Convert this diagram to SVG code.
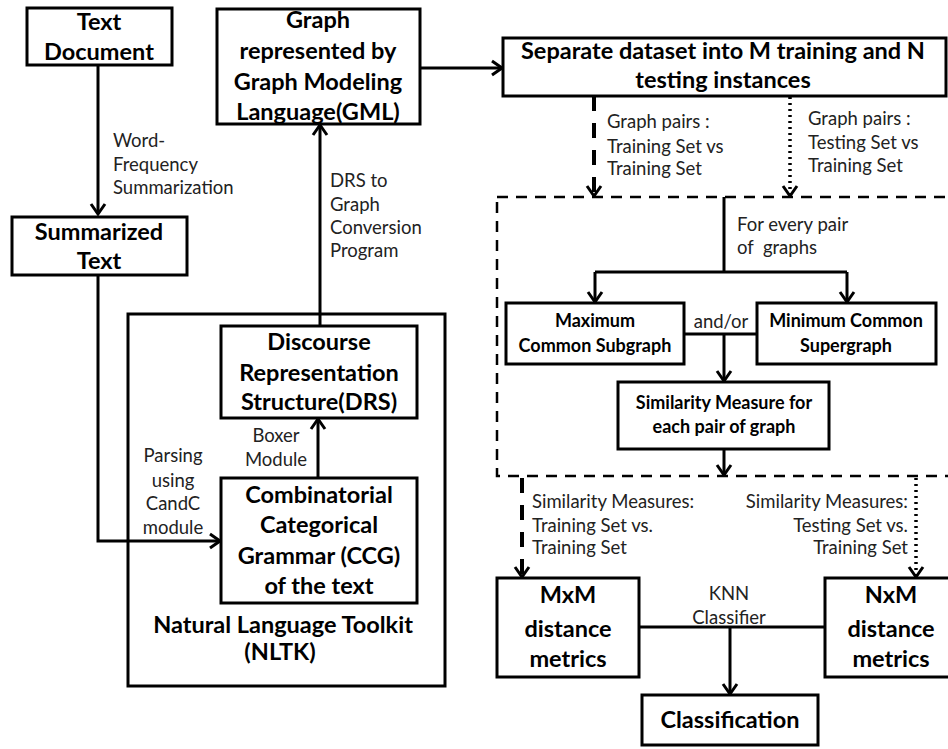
<svg xmlns="http://www.w3.org/2000/svg" width="948" height="749" viewBox="0 0 948 749">
<defs>
<style>
.box{fill:#fff;stroke:#000;stroke-width:3}
.ln{fill:none;stroke:#000;stroke-width:3}
.dash{fill:none;stroke:#000;stroke-width:4;stroke-dasharray:15 12}
.dot{fill:none;stroke:#000;stroke-width:3.5;stroke-dasharray:2 4}
.cont{fill:none;stroke:#000;stroke-width:2.5;stroke-dasharray:11 8}
.b{font-family:Lato,"Liberation Sans",sans-serif;font-weight:bold;font-size:23.5px;text-anchor:middle;fill:#000}
.bs{font-family:Lato,"Liberation Sans",sans-serif;font-weight:bold;font-size:18px;text-anchor:middle;fill:#000}
.r{font-family:Lato,"Liberation Sans",sans-serif;font-size:18.5px;fill:#222}
</style>
<marker id="ah" viewBox="-13 -9 15 18" markerWidth="15" markerHeight="18" refX="0" refY="0" orient="auto" markerUnits="userSpaceOnUse">
<path d="M-10,-7 L0,0 L-10,7" fill="none" stroke="#000" stroke-width="3" stroke-dasharray="none"/>
</marker>
</defs>
<rect width="948" height="749" fill="#fff"/>

<g id="nltk">
<rect class="box" x="128" y="314" width="317" height="372"/>
<text class="b" x="283" y="633">Natural Language Toolkit</text>
<text class="b" x="280" y="660">(NLTK)</text>
</g>
<rect class="cont" x="497" y="197" width="470" height="279"/>

<g id="connectors">
<path class="ln" d="M98,65 V214" marker-end="url(#ah)"/>
<path class="ln" d="M98,275 V541 H220" marker-end="url(#ah)"/>
<path class="ln" d="M318,478 V419" marker-end="url(#ah)"/>
<path class="ln" d="M320,326 V125" marker-end="url(#ah)"/>
<path class="ln" d="M420,68 H502" marker-end="url(#ah)"/>
<path class="dash" d="M594,96 V196" marker-end="url(#ah)"/>
<path class="dot" d="M790,97 V196" marker-end="url(#ah)"/>
<path class="ln" d="M724,197 V272"/>
<path class="ln" d="M595,272 H847"/>
<path class="ln" d="M595,272 V302" marker-end="url(#ah)"/>
<path class="ln" d="M847,272 V302" marker-end="url(#ah)"/>
<path class="ln" d="M684,334 H757"/>
<path class="ln" d="M724,334 V381" marker-end="url(#ah)"/>
<path class="ln" d="M724,449 V475" marker-end="url(#ah)"/>
<path class="dash" d="M522,478 V577" marker-end="url(#ah)"/>
<path class="dot" d="M916,478 V577" marker-end="url(#ah)"/>
<path class="ln" d="M639,627 H825"/>
<path class="ln" d="M730,627 V694" marker-end="url(#ah)"/>
</g>

<g id="labels">
<text class="r" x="113" y="147">Word-</text>
<text class="r" x="113" y="171">Frequency</text>
<text class="r" x="113" y="194">Summarization</text>
<text class="r" x="330" y="187">DRS to</text>
<text class="r" x="330" y="211">Graph</text>
<text class="r" x="330" y="234">Conversion</text>
<text class="r" x="330" y="257">Program</text>
<text class="r" x="276" y="442" text-anchor="middle">Boxer</text>
<text class="r" x="276" y="466" text-anchor="middle">Module</text>
<text class="r" x="173" y="462" text-anchor="middle">Parsing</text>
<text class="r" x="173" y="487" text-anchor="middle">using</text>
<text class="r" x="173" y="510" text-anchor="middle">CandC</text>
<text class="r" x="173" y="534" text-anchor="middle">module</text>
<text class="r" x="607" y="128">Graph pairs :</text>
<text class="r" x="607" y="153">Training Set vs</text>
<text class="r" x="607" y="175">Training Set</text>
<text class="r" x="808" y="125">Graph pairs :</text>
<text class="r" x="808" y="149">Testing Set vs</text>
<text class="r" x="808" y="172">Training Set</text>
<text class="r" x="737" y="231">For every pair</text>
<text class="r" x="737" y="254" xml:space="preserve">of  graphs</text>
<text class="r" x="721" y="328" text-anchor="middle">and/or</text>
<text class="r" x="532" y="508">Similarity Measures:</text>
<text class="r" x="532" y="532">Training Set vs.</text>
<text class="r" x="532" y="554">Training Set</text>
<text class="r" x="908" y="508" text-anchor="end">Similarity Measures:</text>
<text class="r" x="908" y="532" text-anchor="end">Testing Set vs.</text>
<text class="r" x="908" y="554" text-anchor="end">Training Set</text>
<text class="r" x="729" y="600" text-anchor="middle">KNN</text>
<text class="r" x="729" y="624" text-anchor="middle">Classifier</text>
</g>

<g id="text-document">
<rect class="box" x="27" y="8" width="145" height="57"/>
<text class="b" x="99" y="30">Text</text>
<text class="b" x="99" y="60">Document</text>
</g>
<g id="summarized">
<rect class="box" x="12" y="217" width="175" height="58"/>
<text class="b" x="99" y="240">Summarized</text>
<text class="b" x="99" y="269">Text</text>
</g>
<g id="gml">
<rect class="box" x="217" y="9" width="203" height="115"/>
<text class="b" x="318" y="28">Graph</text>
<text class="b" x="318" y="59">represented by</text>
<text class="b" x="318" y="90">Graph Modeling</text>
<text class="b" x="318" y="120">Language(GML)</text>
</g>
<g id="drs">
<rect class="box" x="221" y="326" width="196" height="92"/>
<text class="b" x="319" y="350">Discourse</text>
<text class="b" x="319" y="381">Representation</text>
<text class="b" x="319" y="410">Structure(DRS)</text>
</g>
<g id="ccg">
<rect class="box" x="221" y="478" width="196" height="125"/>
<text class="b" x="319" y="503">Combinatorial</text>
<text class="b" x="319" y="533">Categorical</text>
<text class="b" x="319" y="564">Grammar (CCG)</text>
<text class="b" x="319" y="594">of the text</text>
</g>
<g id="separate">
<rect class="box" x="503" y="38" width="443" height="58"/>
<text class="b" x="723" y="59">Separate dataset into M training and N</text>
<text class="b" x="723" y="88">testing instances</text>
</g>
<g id="mcs">
<rect class="box" x="506" y="303" width="178" height="61"/>
<text class="bs" x="595" y="327">Maximum</text>
<text class="bs" x="595" y="352">Common Subgraph</text>
</g>
<g id="mcsup">
<rect class="box" x="757" y="303" width="179" height="61"/>
<text class="bs" x="846" y="327">Minimum Common</text>
<text class="bs" x="846" y="352">Supergraph</text>
</g>
<g id="similarity">
<rect class="box" x="618" y="382" width="211" height="67"/>
<text class="bs" x="724" y="409">Similarity Measure for</text>
<text class="bs" x="724" y="433">each pair of graph</text>
</g>
<g id="mxm">
<rect class="box" x="497" y="578" width="142" height="99"/>
<text class="b" x="568" y="603">MxM</text>
<text class="b" x="568" y="637">distance</text>
<text class="b" x="568" y="667">metrics</text>
</g>
<g id="nxm">
<rect class="box" x="825" y="578" width="133" height="99"/>
<text class="b" x="891" y="603">NxM</text>
<text class="b" x="891" y="637">distance</text>
<text class="b" x="891" y="667">metrics</text>
</g>
<g id="classification">
<rect class="box" x="642" y="695" width="176" height="50"/>
<text class="b" x="730" y="728">Classification</text>
</g>
</svg>
